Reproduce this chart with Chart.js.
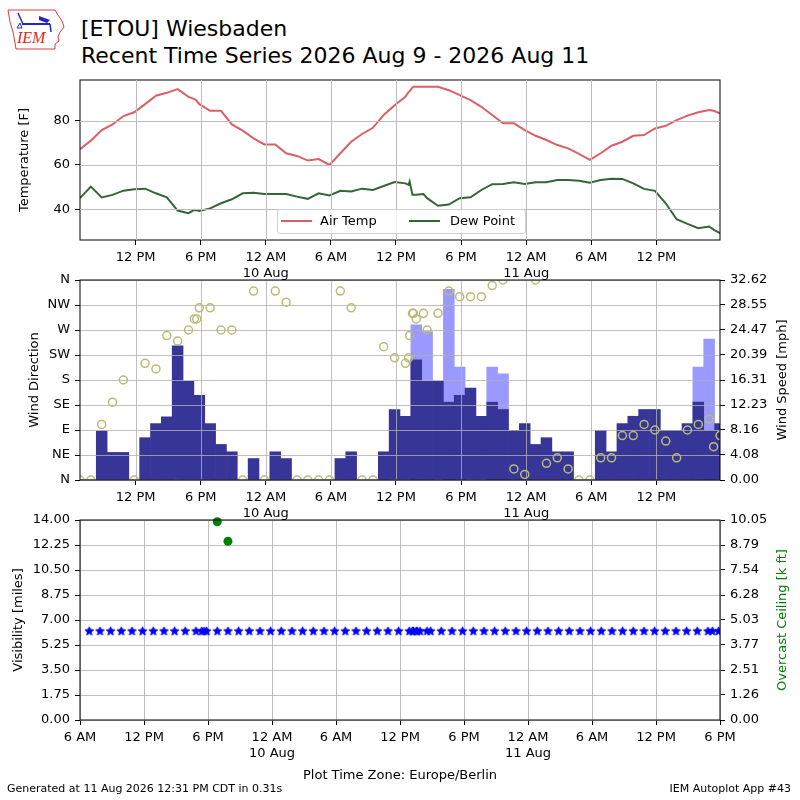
<!DOCTYPE html>
<html>
<head>
<meta charset="utf-8">
<script src="https://cdn.jsdelivr.net/npm/chart.js@4.4.1/dist/chart.umd.min.js"></script>
<style>
body { margin: 0; background: #fff; }
#page { position: relative; width: 800px; height: 800px; overflow: hidden; font-family: "DejaVu Sans", sans-serif; color: #000; }
canvas { position: absolute; left: 0; }
.txt { position: absolute; white-space: nowrap; }
.ytitle { position: absolute; white-space: nowrap; font-size: 13px; line-height: 16px; transform: translate(-50%, -50%) rotate(-90deg); }
.gline { position: absolute; background: #bdbdbd; }
#legend { position: absolute; left: 277px; top: 209px; width: 247px; height: 23px; border: 1px solid #d0d0d0; border-radius: 3px; background: rgba(255,255,255,0.8); font-size: 13px; }
#legend span { position: absolute; top: 3px; line-height: 16px; }
#legend i { position: absolute; top: 10px; width: 31px; height: 0; border-top: 2px solid; }
</style>
</head>
<body>
<div id="page">
  <svg style="position:absolute;left:6px;top:8px" width="62" height="44" viewBox="0 0 62 44">
    <path d="M2,2 L49,2 L52,7 L56,13 L58,19 L54,24 L52,29 L53,33 L49,36 L49,41 L10,41 L9,35 L7,24 L4,14 L3,8 Z" fill="none" stroke="#e03a3a" stroke-width="1"/>
    <line x1="16" y1="16" x2="44" y2="16" stroke="#2424c8" stroke-width="2"/>
    <line x1="17" y1="16" x2="12" y2="5" stroke="#2424c8" stroke-width="1.5"/>
    <polygon points="33,8 44,12 41,15 33,12" fill="#2424c8"/>
    <line x1="44" y1="16" x2="45" y2="24" stroke="#2424c8" stroke-width="1.5"/>
    <polygon points="11,20 14,15 16,20" fill="none" stroke="#2424c8" stroke-width="1"/>
    <text x="11" y="35" font-family="Liberation Serif" font-style="italic" font-size="16" fill="#d42a2a">IEM</text>
  </svg>
  <div class="txt" style="left:81px;top:16px;font-size:22px;">[ETOU] Wiesbaden</div>
  <div class="txt" style="left:81px;top:43px;font-size:22px;">Recent Time Series 2026 Aug 9 - 2026 Aug 11</div>

  <canvas id="visChart" width="800" height="264" style="top:506px"></canvas>
  <canvas id="windChart" width="800" height="254" style="top:266px"></canvas>
  <canvas id="tempChart" width="800" height="219" style="top:66px"></canvas>

  <div id="legend">
    <i style="left:3px;border-color:#db6065"></i><span style="left:42px">Air Temp</span>
    <i style="left:131px;border-color:#346633"></i><span style="left:172px">Dew Point</span>
  </div>

  <div class="ytitle" style="left:24px;top:160px">Temperature [F]</div>
  <div class="ytitle" style="left:34px;top:380px">Wind Direction</div>
  <div class="ytitle" style="left:782px;top:380px">Wind Speed [mph]</div>
  <div class="ytitle" style="left:18px;top:620px">Visibility [miles]</div>
  <div class="ytitle" style="left:782px;top:620px;color:#008000">Overcast Ceiling [k ft]</div>

  <div class="txt" style="left:0;width:800px;text-align:center;top:767px;font-size:13px;line-height:16px">Plot Time Zone: Europe/Berlin</div>
  <div class="txt" style="left:7px;top:782px;font-size:11px;line-height:14px">Generated at 11 Aug 2026 12:31 PM CDT in 0.31s</div>
  <div class="txt" style="right:9px;top:782px;font-size:11px;line-height:14px">IEM Autoplot App #43</div>
</div>

<script>
//DATA

//Hourly observations, hours counted from 9 Aug 00:00 Europe/Berlin
var obsHours = [6.87, 7.87, 8.87, 9.87, 10.87, 11.87, 12.87, 13.87, 14.87, 15.87,
  16.87, 17.87, 18.87, 19.87, 20.87, 21.87, 22.87, 23.87, 24.87, 25.87,
  26.87, 27.87, 28.87, 29.87, 30.87, 31.87, 32.87, 33.87, 34.87, 35.87,
  36.87, 37.87, 38.87, 39.87, 40.87, 41.87, 42.87, 43.87, 44.87, 45.87,
  46.87, 47.87, 48.87, 49.87, 50.87, 51.87, 52.87, 53.87, 54.87, 55.87,
  56.87, 57.87, 58.87, 59.87, 60.87, 61.87, 62.87, 63.87, 64.87, 65.87];

var tmpf = [67.1, 71.0, 75.8, 78.3, 82.1, 83.8, 87.5, 91.3, 92.6, 94.3,
  90.8, 87.5, 84.5, 84.5, 78.3, 75.5, 72.0, 69.3, 69.3, 65.3,
  64.1, 62.0, 62.7, 60.0, 65.3, 70.5, 74.0, 76.8, 82.6, 87.0,
  90.8, 95.3, 95.3, 95.3, 93.8, 91.6, 89.3, 86.3, 82.6, 78.8,
  78.8, 75.8, 73.2, 71.3, 69.0, 67.5, 65.0, 62.3, 65.3, 68.7,
  70.5, 73.2, 73.5, 76.5, 77.7, 80.3, 82.3, 83.8, 84.8, 83.3];

var dwpf = [45.0, 50.2, 45.3, 46.5, 48.4, 49.0, 49.3, 47.2, 45.4, 39.4,
  38.2, 39.2, 40.4, 42.7, 44.5, 47.2, 47.5, 46.9, 46.9, 46.9,
  45.7, 44.7, 47.2, 46.2, 48.3, 48.0, 49.3, 48.7, 50.5, 52.3,
  51.7, 46.5, 45.0, 41.6, 42.1, 45.0, 45.4, 48.7, 51.3, 51.4,
  52.2, 51.4, 52.2, 52.2, 53.2, 53.2, 52.9, 52.0, 53.2, 53.8,
  53.7, 51.7, 49.2, 48.3, 42.7, 35.5, 33.4, 31.4, 32.2, 29.2];

//Wind speed and gust [mph]
var sped = [0, 0, 8.0, 4.5, 4.5, 0, 6.9, 9.2, 10.3, 21.9,
  16.1, 13.8, 9.2, 5.8, 4.6, 0, 3.5, 0, 4.6, 3.5,
  0, 0, 0, 0, 3.5, 4.6, 0, 0, 4.6, 11.5,
  10.4, 19.6, 16.1, 16.1, 12.7, 13.8, 15.0, 10.4, 12.7, 11.5,
  8.1, 9.2, 5.8, 6.9, 4.6, 4.6, 0, 0, 8.1, 4.6,
  9.2, 10.4, 11.5, 11.5, 8.1, 8.1, 9.2, 12.7, 8.1, 9.2];

var gust = [null, null, null, null, null, null, null, null, null, null,
  null, null, null, null, null, null, null, null, null, null,
  null, null, null, null, null, null, null, null, null, null,
  null, 25.3, 24.2, null, 31.1, 18.4, null, null, 18.4, 17.3,
  null, null, null, null, null, null, null, null, null, null,
  null, null, null, null, null, null, null, 18.4, 23.0, null];

//Wind direction [deg]
var drct = [0, 0, 100, 140, 180, 0, 210, 200, 260, 250,
  270, 310, 310, 270, 270, 0, 340, 0, 340, 320,
  0, 0, 0, 0, 340, 310, 0, 0, 240, 220,
  210, 290, 270, 300, 340, 330, 330, 330, 350, 360,
  20, 10, 360, 30, 40, 20, 0, 0, 40, 40,
  80, 80, 100, 90, 70, 40, 90, 100, 110, 80];

//Visibility [miles]
var vsby = [6.21, 6.21, 6.21, 6.21, 6.21, 6.21, 6.21, 6.21, 6.21, 6.21,
  6.21, 6.21, 6.21, 6.21, 6.21, 6.21, 6.21, 6.21, 6.21, 6.21,
  6.21, 6.21, 6.21, 6.21, 6.21, 6.21, 6.21, 6.21, 6.21, 6.21,
  6.21, 6.21, 6.21, 6.21, 6.21, 6.21, 6.21, 6.21, 6.21, 6.21,
  6.21, 6.21, 6.21, 6.21, 6.21, 6.21, 6.21, 6.21, 6.21, 6.21,
  6.21, 6.21, 6.21, 6.21, 6.21, 6.21, 6.21, 6.21, 6.21, 6.21];

//Special (non hourly) observations
var specHours = [17.41, 17.63, 37.16, 37.26, 37.52, 37.61, 38.53, 65.28];
var specTmpf = [89.8, 89.0, 93.0, 93.3, 95.0, 95.3, 95.3, 84.5];
var specDwpf = [39.7, 39.5, 51.0, 52.5, 46.5, 46.5, 46.9, 30.8];
var specDrct = [290, 290, 220, 260, 300, 300, 300, 60];
var specVsby = [6.21, 6.21, 6.21, 6.21, 6.21, 6.21, 6.21, 6.21];

//Overcast ceiling [k ft]
var ceilHours = [18.87, 19.87];
var ceilKft = [9.96, 8.98];

//Axis ticks
var timeTicks = [12, 18, 24, 30, 36, 42, 48, 54, 60];
var timeLabels = ["12 PM", "6 PM", ["12 AM", "10 Aug"], "6 AM", "12 PM", "6 PM", ["12 AM", "11 Aug"], "6 AM", "12 PM"];
var visTimeTicks = [6, 12, 18, 24, 30, 36, 42, 48, 54, 60, 66];
var visTimeLabels = ["6 AM", "12 PM", "6 PM", ["12 AM", "10 Aug"], "6 AM", "12 PM", "6 PM", ["12 AM", "11 Aug"], "6 AM", "12 PM", "6 PM"];
var tempTicks = [40, 60, 80];
var dirTicks = [0, 45, 90, 135, 180, 225, 270, 315, 360];
var dirLabels = ["N", "NE", "E", "SE", "S", "SW", "W", "NW", "N"];
var speedTicks = [0, 4.08, 8.16, 12.23, 16.31, 20.39, 24.47, 28.55, 32.62];
var visTicks = [0, 1.75, 3.5, 5.25, 7, 8.75, 10.5, 12.25, 14];
var ceilTicks = [0, 1.26, 2.51, 3.77, 5.03, 6.28, 7.54, 8.79, 10.05];

//Colors
var $temp = "#db6065";
var $dew = "#346633";
var $speed = "#373698";
var $gust = "#9999ff";
var $dir = "#b8bc74";
var $grid = "#b0b0b0";

Chart.defaults.font.family = "DejaVu Sans";
Chart.defaults.font.size = 13;
Chart.defaults.color = "#000";

//HELPERS
function points(xs, ys) {
  var out = [];
  for (var i = 0; i < xs.length; i++) {
    if (ys[i] !== null) out.push({x: xs[i], y: ys[i]});
  }
  return out;
}

function merged(xsA, ysA, xsB, ysB) {
  return points(xsA, ysA).concat(points(xsB, ysB)).sort(function (a, b) { return a.x - b.x; });
}

function timeAxis(ticks, labels, min, max, height) {
  return {
    type: "linear",
    min: min,
    max: max,
    offset: false,
    afterBuildTicks: function (s) { s.ticks = ticks.map(function (v) { return {value: v}; }); },
    afterFit: function (s) { s.height = height; },
    ticks: { callback: function (v, i) { return labels[i]; }, autoSkip: false, maxRotation: 0, padding: 5 },
    grid: { color: "#000", tickColor: "#000", tickLength: 5, offset: false, drawOnChartArea: false },
    border: { display: false }
  };
}

function valueAxis(position, min, max, ticks, label) {
  return {
    type: "linear",
    position: position,
    min: min,
    max: max,
    afterBuildTicks: function (s) { s.ticks = ticks.map(function (v) { return {value: v}; }); },
    afterFit: function (s) { s.width = 80; },
    ticks: { callback: label, autoSkip: false, padding: 5 },
    grid: { color: "#000", tickColor: "#000", tickLength: 5, drawOnChartArea: false },
    border: { display: false }
  };
}

function starImage(r, color) {
  var c = document.createElement("canvas");
  c.width = c.height = 2 * r + 4;
  var g = c.getContext("2d");
  g.beginPath();
  for (var k = 0; k < 10; k++) {
    var a = -Math.PI / 2 + k * Math.PI / 5;
    var rr = k % 2 ? r * 0.45 : r;
    g.lineTo(r + 2 + rr * Math.cos(a), r + 2 + rr * Math.sin(a));
  }
  g.closePath();
  g.fillStyle = color;
  g.strokeStyle = color;
  g.lineWidth = 1;
  g.fill();
  g.stroke();
  return c;
}

function drawGrid(chart) {
  var a = chart.chartArea, ctx = chart.ctx;
  var xs = chart.scales.x, ys = chart.scales.y;
  ctx.save();
  ctx.strokeStyle = $grid;
  ctx.lineWidth = 0.8;
  ctx.beginPath();
  xs.ticks.forEach(function (t) {
    var px = Math.round(xs.getPixelForValue(t.value)) + 0.5;
    ctx.moveTo(px, a.top);
    ctx.lineTo(px, a.bottom);
  });
  ys.ticks.forEach(function (t) {
    var py = Math.round(ys.getPixelForValue(t.value)) + 0.5;
    ctx.moveTo(a.left, py);
    ctx.lineTo(a.right, py);
  });
  ctx.stroke();
  ctx.restore();
}

//grid lines as thin page elements laid over a chart's plot area (used for the top plot)
function overlayGrid(chart, xTicks, yTicks) {
  var page = document.getElementById("page");
  var legend = document.getElementById("legend");
  var a = chart.chartArea;
  var top0 = chart.canvas.offsetTop;
  var xs = chart.options.scales.x, ys = chart.options.scales.y;
  function add(l, t, w, h) {
    var d = document.createElement("div");
    d.className = "gline";
    d.style.left = l + "px";
    d.style.top = t + "px";
    d.style.width = w + "px";
    d.style.height = h + "px";
    page.insertBefore(d, legend);
  }
  xTicks.forEach(function (v) {
    var px = Math.round(a.left + (v - xs.min) / (xs.max - xs.min) * (a.right - a.left));
    add(px, top0 + a.top, 1, a.bottom - a.top);
  });
  yTicks.forEach(function (v) {
    var py = Math.round(a.bottom - (v - ys.min) / (ys.max - ys.min) * (a.bottom - a.top));
    add(a.left, top0 + py, a.right - a.left, 1);
  });
}

//grey grid (where each plot wants it), then black box round the plot
var frame = {
  id: "frame",
  beforeDatasetsDraw: function (chart, args, opts) {
    if (opts.gridAt === "before") drawGrid(chart);
  },
  afterDatasetDraw: function (chart, args, opts) {
    if (opts.gridAt === args.index) drawGrid(chart);
  },
  afterDatasetsDraw: function (chart, args, opts) {
    if (opts.gridAt === "after") drawGrid(chart);
    var a = chart.chartArea, ctx = chart.ctx;
    ctx.save();
    ctx.strokeStyle = "#000";
    ctx.lineWidth = 1;
    ctx.strokeRect(a.left, a.top, a.right - a.left, a.bottom - a.top);
    ctx.restore();
  }
};

var tMin = obsHours[0];
var tMax = obsHours[obsHours.length - 1];

//CHARTS

// Temperature / dew point
var tempChart = new Chart(document.getElementById("tempChart"), {
  type: "line",
  data: {
    datasets: [
      { label: "Air Temp", data: merged(obsHours, tmpf, specHours, specTmpf), borderColor: $temp, borderWidth: 2, pointRadius: 0, tension: 0, fill: false, clip: 0 },
      { label: "Dew Point", data: merged(obsHours, dwpf, specHours, specDwpf), borderColor: $dew, borderWidth: 2, pointRadius: 0, tension: 0, fill: false, clip: 0 }
    ]
  },
  options: {
    responsive: false,
    animation: false,
    layout: { padding: { left: 0, right: 80, top: 14, bottom: 0 } },
    plugins: { legend: { display: false }, tooltip: { enabled: false }, frame: { gridAt: "none" } },
    scales: {
      x: timeAxis(timeTicks, timeLabels, tMin, tMax, 45),
      y: valueAxis("left", 26.1, 98.4, tempTicks, function (v) { return v; })
    }
  },
  plugins: [frame]
});
overlayGrid(tempChart, timeTicks, tempTicks);

// Wind direction and speed
new Chart(document.getElementById("windChart"), {
  type: "bar",
  data: {
    datasets: [
      { type: "line", label: "Direction", data: merged(obsHours, drct, specHours, specDrct), yAxisID: "y", showLine: false,
        pointStyle: "circle", pointRadius: 4, pointBorderWidth: 1.5, borderColor: $dir, backgroundColor: "rgba(0,0,0,0)", clip: 0, order: 0 },
      { label: "Speed", data: points(obsHours, sped), yAxisID: "y1", backgroundColor: $speed, borderWidth: 0,
        barPercentage: 1, categoryPercentage: 1, grouped: false, clip: 0, order: 1 },
      { label: "Gust", data: points(obsHours, gust), yAxisID: "y1", backgroundColor: $gust, borderWidth: 0,
        barPercentage: 1, categoryPercentage: 1, grouped: false, clip: 0, order: 2 }
    ]
  },
  options: {
    responsive: false,
    animation: false,
    layout: { padding: { left: 0, right: 0, top: 14, bottom: 0 } },
    plugins: { legend: { display: false }, tooltip: { enabled: false }, frame: { gridAt: 1 } },
    scales: {
      x: timeAxis(timeTicks, timeLabels, tMin, tMax, 40),
      y: valueAxis("left", 0, 360, dirTicks, function (v, i) { return dirLabels[i]; }),
      y1: valueAxis("right", 0, 32.62, speedTicks, function (v) { return v.toFixed(2); })
    }
  },
  plugins: [frame]
});

// Visibility and ceiling
new Chart(document.getElementById("visChart"), {
  type: "line",
  data: {
    datasets: [
      { label: "Visibility", data: merged(obsHours, vsby, specHours, specVsby), yAxisID: "y", showLine: false,
        pointStyle: starImage(4.5, "#0000ff"), pointRadius: 5, clip: 0 },
      { label: "Ceiling", data: points(ceilHours, ceilKft), yAxisID: "y1", showLine: false,
        pointStyle: "circle", pointRadius: 4.5, borderWidth: 0, pointBorderWidth: 0, backgroundColor: "#008000", clip: false }
    ]
  },
  options: {
    responsive: false,
    animation: false,
    layout: { padding: { left: 0, right: 0, top: 14, bottom: 0 } },
    plugins: { legend: { display: false }, tooltip: { enabled: false }, frame: { gridAt: "before" } },
    scales: {
      x: timeAxis(visTimeTicks, visTimeLabels, 6, 66, 50),
      y: valueAxis("left", 0, 14, visTicks, function (v) { return v.toFixed(2); }),
      y1: valueAxis("right", 0, 10.05, ceilTicks, function (v) { return v.toFixed(2); })
    }
  },
  plugins: [frame]
});
</script>
</body>
</html>
